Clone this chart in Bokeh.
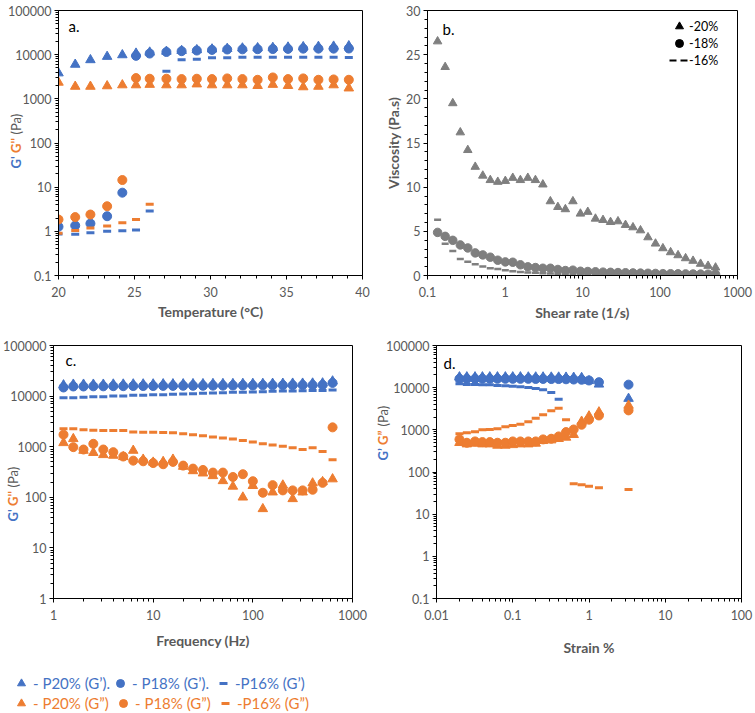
import math
from bokeh.plotting import figure
from bokeh.models import (Range1d, FixedTicker, CustomJSTickFormatter, Label,
                          Legend, LegendItem, GridBox)
from bokeh.layouts import column, row
from bokeh.embed import file_html
from bokeh.resources import INLINE

BLUE = "#4472C4"
ORANGE = "#ED7D31"
GRAY = "#7F7F7F"
TXT = "#595959"
FONT = "Lato"
NAN = float("nan")

# ---------------- Panel a: temperature sweep ----------------
temp_c = [20, 21.1, 22.1, 23.2, 24.2, 25.1, 26.0, 27.1, 28.1, 29.1,
          30.1, 31.1, 32.1, 33.1, 34.1, 35.1, 36.1, 37.1, 38.1, 39.1]
a_p20_gp = [3820, 5990, 7600, 9030, 9830, 10700, 11300, 11800, 12300, 12800,
            13300, 13700, 14000, 14200, 14400, 14700, 15000, 15200, 15400, 15700]
a_p18_gp = [1.27, 1.35, 1.5, 2.2, 7.5, 9400, 10600, 11500, 12000, 12400,
            12800, 13100, 13200, 13300, 13400, 13500, 13700, 13700, 13700, 13800]
a_p16_gp = [0.87, 0.86, 0.93, 1.0, 1.03, 1.07, 2.9, 4200, 7700, 7900,
            8500, 8500, 8700, 8700, 8700, 8700, 8700, 8700, 8700, 8600]
a_p20_gpp = [2350, 1900, 1900, 1950, 2050, 2050, 2100, 2050, 2050, 2150,
             2050, 2050, 2050, 1980, 2100, 1980, 1850, 1900, 2050, 1740]
a_p18_gpp = [1.85, 2.1, 2.4, 3.7, 14.5, 2950, 2850, 2850, 2800, 2850,
             2800, 2900, 2800, 2700, 3050, 2800, 2900, 2700, 2750, 2700]
a_p16_temp = [20, 21.1, 22.1, 23.2, 24.2, 25.1, 26.0]
a_p16_gpp = [0.9, 1.04, 1.19, 1.32, 1.56, 1.86, 4.1]

# ---------------- Panel b: viscosity ----------------
shear_rate = [0.135, 0.169, 0.212, 0.265, 0.331, 0.413, 0.517, 0.646, 0.807, 1.01,
              1.26, 1.58, 1.97, 2.47, 3.08, 3.85, 4.81, 6.01, 7.52, 9.4,
              11.7, 14.7, 18.4, 23.0, 28.7, 35.9, 44.8, 56.0, 70.0, 87.5,
              109, 137, 171, 214, 267, 334, 417, 521]
visc_20 = [26.5, 23.6, 19.5, 16.2, 14.2, 12.3, 11.3, 10.8, 10.6, 10.7,
           11.05, 10.8, 11.05, 10.8, 10.3, 8.4, 7.75, 7.5, 8.4, 7.0,
           7.2, 6.43, 6.28, 6.05, 6.13, 5.72, 5.45, 5.11, 4.32, 3.61,
           3.08, 2.63, 2.29, 1.95, 1.66, 1.32, 1.09, 0.9]
visc_18 = [4.88, 4.43, 3.98, 3.46, 3.12, 2.56, 2.33, 2.07, 1.73, 1.54,
           1.50, 1.21, 0.98, 0.90, 0.82, 0.82, 0.68, 0.56, 0.6, 0.48,
           0.45, 0.42, 0.38, 0.36, 0.33, 0.31, 0.29, 0.27, 0.25, 0.23,
           0.21, 0.2, 0.19, 0.18, 0.17, 0.16, 0.15, 0.14]
visc_16 = [6.3, 3.6, 2.78, 1.88, 1.55, 1.28, 1.01, 0.83, 0.75, 0.6,
           0.49, 0.41, 0.35, 0.3, 0.25, 0.22, 0.19, 0.17, 0.15, 0.13,
           0.12, 0.11, 0.1, 0.09, 0.08, 0.08, 0.07, 0.07, 0.06, 0.06,
           0.05, 0.05, 0.05, 0.04, 0.04, 0.04, 0.03, 0.03]

# ---------------- Panel c: frequency sweep ----------------
freq_hz = [1.26, 1.58, 2.0, 2.51, 3.16, 3.98, 5.01, 6.31, 7.94, 10,
           12.6, 15.8, 20, 25.1, 31.6, 39.8, 50.1, 63.1, 79.4, 100,
           126, 158, 200, 251, 316, 398, 501, 631]
c_p20_gp = [16500, 17000, 17000, 17000, 17000, 17100, 17100, 17200, 17200, 17200,
            17300, 17300, 17300, 17400, 17400, 17500, 17500, 17500, 17600, 17600,
            17600, 17700, 17700, 17800, 17800, 17900, 18000, 19700]
c_p18_gp = [14800, 15500, 15500, 15600, 15600, 15700, 15700, 15800, 15800, 15800,
            15900, 15900, 16000, 16000, 16000, 16100, 16100, 16200, 16200, 16200,
            16300, 16300, 16400, 16400, 16500, 16500, 16600, 18200]
c_p16_gp = [9300, 9300, 9460, 9750, 9750, 10040, 10040, 10350, 10350, 10670,
            10670, 10840, 11000, 11170, 11330, 11510, 11670, 11860, 11860, 12030,
            12220, 12400, 12590, 12590, 12770, 12970, 12970, 13150]
c_p20_gpp = [1190, 1430, 840, 760, 690, 670, 630, 840, 560, 490,
             505, 560, 405, 332, 299, 265, 211, 164, 100, 169,
             59, 126, 173, 93, 126, 190, 202, 229]
c_p18_gpp = [1730, 980, 880, 1140, 880, 780, 640, 530, 515, 475,
             450, 500, 423, 369, 347, 308, 308, 252, 286, 208,
             123, 174, 137, 137, 137, 141, 193, 2410]
c_p16_gpp = [2270, 2270, 2170, 2120, 2080, 2080, 2080, 1960, 1920, 1920,
             1900, 1890, 1800, 1720, 1650, 1560, 1480, 1420, 1320, 1240,
             1150, 1080, 1020, 950, 880, 950, 805, 555]

# ---------------- Panel d: strain sweep ----------------
strain_pct = [0.02, 0.025, 0.032, 0.04, 0.05, 0.063, 0.08, 0.1, 0.126, 0.16,
              0.2, 0.25, 0.32, 0.4, 0.5, 0.63, 0.8, 1.0, 1.35, 3.3]
d_p20_gp = [17800, 17800, 17800, 17800, 17800, 17800, 17800, 17800, 17800, 17700,
            17700, 17700, 17600, 17600, 17500, 17400, 17200, 14500, 12000, 5500]
d_p18_gp = [16200, 16200, 16200, 16200, 16200, 16200, 16200, 16200, 16200, 16200,
            16100, 16100, 16000, 16000, 15800, 15600, 15400, 14800, 13500, 11800]
d_p16_strain = [0.02, 0.025, 0.032, 0.04, 0.05, 0.063, 0.08, 0.1, 0.126, 0.16,
                0.2, 0.25, 0.32, 0.4]
d_p16_gp = [12370, 11910, 11910, 11700, 11700, 11270, 11090, 10870, 10500, 10120,
            9580, 8910, 7700, 5340]
d_p20_gpp = [494, 458, 476, 458, 458, 426, 426, 440, 458, 458,
             476, 550, 570, 615, 660, 765, 1580, 2110, 2630, 3790]
d_p18_gpp = [593, 494, 531, 512, 512, 494, 494, 531, 531, 531,
             531, 593, 615, 698, 884, 1020, 1320, 1740, 2190, 2890]
d_p16_gpp = [810, 850, 900, 1000, 1020, 1060, 1180, 1270, 1360, 1550,
             1890, 2280, 2830, 3270, 1740, 53, 50, 46, 42.5, 38.7]

# ---------------- Axis ticks ----------------
a_x_ticks = [20, 25, 30, 35, 40]
a_x_minor = list(range(20, 41))
a_y_ticks = [0.1, 1, 10, 100, 1000, 10000, 100000]
b_x_ticks = [0.1, 1, 10, 100, 1000]
b_y_ticks = [0, 5, 10, 15, 20, 25, 30]
b_y_minor = list(range(0, 31))
c_x_ticks = [1, 10, 100, 1000]
c_y_ticks = [1, 10, 100, 1000, 10000, 100000]
d_x_ticks = [0.01, 0.1, 1, 10, 100]
d_y_ticks = [0.1, 1, 10, 100, 1000, 10000, 100000]

# legend texts
b_legend_labels = ["-20%", "-18%", "-16%"]
legend_labels_gp = ["- P20% (G\u2019).", "- P18% (G\u2019).", "-P16% (G\u2019)"]
legend_labels_gpp = ["- P20% (G\u201d)", "- P18% (G\u201d)", "-P16% (G\u201d)"]


def log_minor(ticks):
    out = []
    for t in ticks[:-1]:
        out += [m * t for m in range(2, 10)]
    return out


FMT = CustomJSTickFormatter(code="return String(Number(tick.toPrecision(6)));")


def make_fig(w, h, bl, br, bt, bb, xr, yr, xlog, ylog):
    p = figure(width=w, height=h,
               x_axis_type="log" if xlog else "linear",
               y_axis_type="log" if ylog else "linear",
               x_range=Range1d(*xr), y_range=Range1d(*yr),
               output_backend="svg", toolbar_location=None,
               min_border_left=bl, min_border_right=br,
               min_border_top=bt, min_border_bottom=bb)
    p.xgrid.visible = False
    p.ygrid.visible = False
    p.outline_line_color = "black"
    p.outline_line_width = 1
    p.outline_line_alpha = 1
    p.background_fill_color = "white"
    p.border_fill_color = "white"
    for ax in p.axis:
        ax.formatter = FMT
        ax.axis_line_color = "black"
        ax.major_tick_line_color = "black"
        ax.minor_tick_line_color = "black"
        ax.major_tick_out = 4
        ax.major_tick_in = 0
        ax.minor_tick_out = 3
        ax.minor_tick_in = 0
        ax.major_label_text_font = FONT
        ax.major_label_text_font_size = "12.5px"
        ax.major_label_text_color = TXT
        ax.major_label_standoff = 3
        ax.axis_label_text_font = FONT
        ax.axis_label_text_font_size = "14px"
        ax.axis_label_text_font_style = "bold"
        ax.axis_label_text_color = TXT
    p.xaxis.major_label_standoff = 7
    return p


def add_letter(p, x, y, txt):
    p.add_layout(Label(x=x, y=y, x_units="screen", y_units="screen", text=txt,
                       text_align="left", text_baseline="middle",
                       text_color="black", text_font=FONT,
                       text_font_size="15px"))


TRI = 9.5
CIR = 9
DSH = 8

# ---------- panel a ----------
pa = make_fig(375, 330, 58, 13, 7, 55, (20, 40), (0.1, 100000), False, True)
pa.xaxis.ticker = FixedTicker(ticks=a_x_ticks, minor_ticks=a_x_minor)
pa.yaxis.ticker = FixedTicker(ticks=a_y_ticks, minor_ticks=log_minor(a_y_ticks))
pa.xaxis.axis_label = "Temperature (\u00b0C)"
pa.xaxis.axis_label_standoff = 3
pa.scatter(temp_c, a_p20_gp, marker="triangle", size=TRI, color=BLUE)
pa.scatter(temp_c, a_p18_gp, marker="circle", size=CIR, color=BLUE)
pa.scatter(temp_c, a_p16_gp, marker="dash", size=DSH, line_width=3, line_color=BLUE)
pa.scatter(temp_c, a_p20_gpp, marker="triangle", size=TRI, color=ORANGE)
pa.scatter(temp_c, a_p18_gpp, marker="circle", size=CIR, color=ORANGE)
pa.scatter(a_p16_temp, a_p16_gpp, marker="dash", size=DSH, line_width=3, line_color=ORANGE)
add_letter(pa, 10, 250, "a.")

# ---------- panel b ----------
pb = make_fig(380, 330, 52, 18, 10, 54, (0.1, 1000), (0, 30), True, False)
pb.xaxis.ticker = FixedTicker(ticks=b_x_ticks, minor_ticks=log_minor(b_x_ticks))
pb.yaxis.ticker = FixedTicker(ticks=b_y_ticks, minor_ticks=b_y_minor)
pb.xaxis.axis_label = "Shear rate (1/s)"
pb.xaxis.axis_label_standoff = 4
pb.yaxis.axis_label = "Viscosity (Pa.s)"
pb.yaxis.axis_label_standoff = 1
pb.scatter(shear_rate, visc_20, marker="triangle", size=8.5, color=GRAY)
pb.scatter(shear_rate, visc_18, marker="circle", size=8.5, color=GRAY)
pb.scatter(shear_rate, visc_16, marker="dash", size=7, line_width=2.5, line_color=GRAY)
add_letter(pb, 15, 247, "b.")

# ---------- panel c ----------
pc = make_fig(375, 332, 53, 23, 15, 61, (1, 1000), (1, 100000), True, True)
pc.xaxis.ticker = FixedTicker(ticks=c_x_ticks, minor_ticks=log_minor(c_x_ticks))
pc.yaxis.ticker = FixedTicker(ticks=c_y_ticks, minor_ticks=log_minor(c_y_ticks))
pc.xaxis.axis_label = "Frequency (Hz)"
pc.xaxis.axis_label_standoff = 9
pc.scatter(freq_hz, c_p20_gp, marker="triangle", size=TRI, color=BLUE)
pc.scatter(freq_hz, c_p18_gp, marker="circle", size=CIR, color=BLUE)
pc.scatter(freq_hz, c_p16_gp, marker="dash", size=DSH, line_width=3, line_color=BLUE)
pc.scatter(freq_hz, c_p20_gpp, marker="triangle", size=TRI, color=ORANGE)
pc.scatter(freq_hz, c_p18_gpp, marker="circle", size=CIR, color=ORANGE)
pc.scatter(freq_hz, c_p16_gpp, marker="dash", size=DSH, line_width=3, line_color=ORANGE)
add_letter(pc, 12, 239, "c.")

# ---------- panel d ----------
pd_ = make_fig(380, 332, 61, 14, 15, 64, (0.01, 100), (0.1, 100000), True, True)
pd_.xaxis.ticker = FixedTicker(ticks=d_x_ticks, minor_ticks=log_minor(d_x_ticks))
pd_.yaxis.ticker = FixedTicker(ticks=d_y_ticks, minor_ticks=log_minor(d_y_ticks))
pd_.xaxis.axis_label = "Strain %"
pd_.xaxis.axis_label_standoff = 16
pd_.scatter(strain_pct, d_p20_gp, marker="triangle", size=TRI, color=BLUE)
pd_.scatter(strain_pct, d_p18_gp, marker="circle", size=CIR, color=BLUE)
pd_.scatter(d_p16_strain, d_p16_gp, marker="dash", size=DSH, line_width=3, line_color=BLUE)
pd_.scatter(strain_pct, d_p20_gpp, marker="triangle", size=TRI, color=ORANGE)
pd_.scatter(strain_pct, d_p18_gpp, marker="circle", size=CIR, color=ORANGE)
pd_.scatter(strain_pct, d_p16_gpp, marker="dash", size=DSH, line_width=3, line_color=ORANGE)
add_letter(pd_, 7, 236, "d.")

# ---------- transparent overlay for texts outside the plot frames ----------
W, H = 755, 713
ov = figure(width=W, height=H, x_range=Range1d(0, W), y_range=Range1d(0, H),
            output_backend="svg", toolbar_location=None,
            x_axis_location=None, y_axis_location=None,
            min_border_left=0, min_border_right=0, min_border_top=0, min_border_bottom=0)
ov.xgrid.visible = False
ov.ygrid.visible = False
ov.outline_line_color = None
ov.background_fill_alpha = 0
ov.border_fill_alpha = 0


def ytitle(px, py_start, straight):
    g1, g2 = ("G'", "G''") if straight else ("G\u2019", "G\u201d")
    parts = [(g1, BLUE, "bold", 15.5), (g2, ORANGE, "bold", 18.5), ("(Pa)", TXT, "normal", 0)]
    cur = H - py_start
    for txt, col, style, w in parts:
        ov.add_layout(Label(x=px, y=cur, x_units="screen", y_units="screen",
                            text=txt, angle=math.pi / 2, text_align="left",
                            text_baseline="middle", text_color=col,
                            text_font=FONT, text_font_size="13px",
                            text_font_style=style))
        cur += w


ytitle(15, 168, True)
ytitle(12, 521, True)
ytitle(382, 460, False)


def legend_entry(kind, color, label, cx, cy, text_color, font_size,
                 glyph_w=20, glyph_h=22, standoff=2):
    if kind == "dash":
        r = ov.scatter([NAN], [NAN], marker="dash", size=9, line_width=3, line_color=color)
    elif kind == "dashline":
        r = ov.line([NAN, NAN], [NAN, NAN], line_dash="7 4", line_width=2, line_color=color)
    else:
        r = ov.scatter([NAN], [NAN], marker=kind, size=9, color=color)
    lg = Legend(items=[LegendItem(label=label, renderers=[r])],
                location=(cx - glyph_w / 2, H - (cy + glyph_h / 2)),
                glyph_width=glyph_w, glyph_height=glyph_h, label_height=glyph_h,
                padding=0, margin=0, label_standoff=standoff,
                label_text_font=FONT, label_text_font_size=font_size,
                label_text_color=text_color, background_fill_alpha=0,
                border_line_color=None)
    ov.add_layout(lg, "center")


# panel b legend (black symbols)
for kind, lab, cy in zip(["triangle", "circle", "dashline"], b_legend_labels, [26, 43, 60]):
    legend_entry(kind, "black", lab, 679, cy, "black", "12.5px", standoff=0)

# bottom legend
for kind, lab, cx in zip(["triangle", "circle", "dash"], legend_labels_gp, [21, 120, 223]):
    legend_entry(kind, BLUE, lab, cx, 683, BLUE, "15px")
for kind, lab, cx in zip(["triangle", "circle", "dash"], legend_labels_gpp, [21, 123, 225]):
    legend_entry(kind, ORANGE, lab, cx, 703, ORANGE, "15px")

main = column(row(pa, pb), row(pc, pd_))
root = GridBox(children=[(main, 0, 0), (ov, 0, 0)])
open("out.html", "w").write(file_html(root, INLINE))
